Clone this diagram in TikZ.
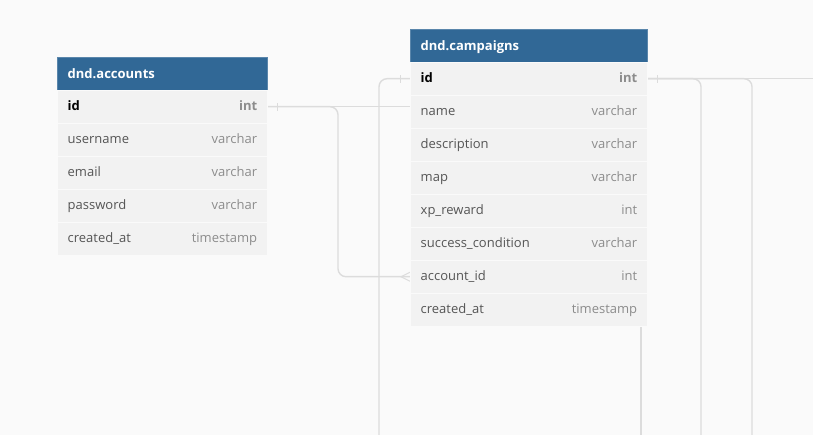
\documentclass[tikz,border=0pt]{standalone}
\usepackage{fontspec}
\setmainfont{Open Sans}
\usetikzlibrary{positioning}

\definecolor{headblue}{HTML}{316896}
\definecolor{rowgray}{HTML}{F2F2F2}
\definecolor{linegray}{HTML}{DCDCDC}
\definecolor{namegray}{HTML}{555555}
\definecolor{typegray}{HTML}{8C8C8C}
\definecolor{paper}{HTML}{FAFAFA}

\pgfdeclarelayer{paper}
\pgfdeclarelayer{links}
\pgfsetlayers{paper,links,main}

\tikzset{
	head/.style={fill=headblue, draw=headblue!80!white, minimum height=33pt, inner sep=0pt, anchor=north west},
	title/.style={anchor=west, inner sep=0pt, text=white, text height=11pt, text depth=2pt, font=\fontsize{13}{15}\selectfont\bfseries},
	row/.style={fill=rowgray, draw=white!60!rowgray, minimum height=33pt, inner sep=0pt, anchor=north west},
	fname/.style={inner sep=0pt, anchor=west, text=namegray, text height=10.5pt, text depth=2pt, font=\fontsize{13}{15}\selectfont},
	ftype/.style={inner sep=0pt, anchor=east, text=typegray, text height=10.5pt, text depth=2pt, font=\fontsize{13}{15}\selectfont},
	rel/.style={draw=linegray, line width=1.4pt},
	relmark/.style={draw=linegray, line width=1pt},
}
\newcommand{\pkname}[1]{\textcolor{black}{\textbf{#1}}}

\begin{document}
\begin{tikzpicture}[x=1pt, y=-1pt]
	\begin{pgfonlayer}{paper}
		\fill [paper] (0,0) rectangle (813,435);
	\end{pgfonlayer}
	\useasboundingbox (0,0) rectangle (813,435);

	% bends and loose ends
	\coordinate (bendA) at (338,0);
	\coordinate (lowA) at (379,445);
	\coordinate (lowB) at (701,445);
	\coordinate (lowC) at (752,445);
	\coordinate (lowD) at (641,445);
	\coordinate (edgeR) at (820,0);

	% dnd.accounts
	\node [head, minimum width=210pt] (acc) at (57,57) {};
	\node [title] (acc-title) at ([xshift=10.5pt]acc.west) {dnd.accounts};
	\foreach \fld/\typ [count=\i] in {\pkname{id}/\textbf{int}, username/varchar, email/varchar, password/varchar, created\_at/timestamp} {
		\node [row, minimum width=210pt] (acc-\i) at (57, 90+33*\i-33) {};
		\node [fname] (acc-\i-n) at ([xshift=10.5pt]acc-\i.west) {\fld};
		\node [ftype] (acc-\i-t) at ([xshift=-10pt]acc-\i.east) {\typ};
	}

	% dnd.campaigns
	\node [head, minimum width=237pt] (cmp) at (410,29) {};
	\node [title] (cmp-title) at ([xshift=10.5pt]cmp.west) {dnd.campaigns};
	\foreach \fld/\typ [count=\i] in {\pkname{id}/\textbf{int}, name/varchar, description/varchar, map/varchar, xp\_reward/int, success\_condition/varchar, account\_id/int, created\_at/timestamp} {
		\node [row, minimum width=237pt] (cmp-\i) at (410, 62+33*\i-33) {};
		\node [fname] (cmp-\i-n) at ([xshift=10.5pt]cmp-\i.west) {\fld};
		\node [ftype] (cmp-\i-t) at ([xshift=-10pt]cmp-\i.east) {\typ};
	}

	\begin{pgfonlayer}{links}
		% accounts.id --< campaigns.account_id
		\draw [rel] (acc-1.east) -- (acc-1.east -| cmp-2.west);
		\draw [rel, rounded corners=8] (acc-1.east) -| (bendA |- cmp-7.west) -- (cmp-7.west);
		\draw [relmark] ([yshift=-4.5pt]cmp-7.west) -- ([xshift=-9pt]cmp-7.west) -- ([yshift=4.5pt]cmp-7.west);

		% campaigns.id to the tables below
		\draw [rel, rounded corners=8] (cmp-1.west) -| (lowA);
		\draw [rel, rounded corners=8] (cmp-1.east) -| (lowB);
		\draw [rel, rounded corners=8] (cmp-1.east) -| (lowC);
		\draw [rel] (cmp-1.east) -- (cmp-1.east -| edgeR);
		\draw [rel] (lowD |- cmp-8.south) -- (lowD);

		% one-side ticks
		\draw [relmark] ([xshift=10pt, yshift=-4pt]acc-1.east) -- ([xshift=10pt, yshift=4pt]acc-1.east);
		\draw [relmark] ([xshift=-10pt, yshift=-4pt]cmp-1.west) -- ([xshift=-10pt, yshift=4pt]cmp-1.west);
		\draw [relmark] ([xshift=10pt, yshift=-4pt]cmp-1.east) -- ([xshift=10pt, yshift=4pt]cmp-1.east);
	\end{pgfonlayer}
\end{tikzpicture}
\end{document}
